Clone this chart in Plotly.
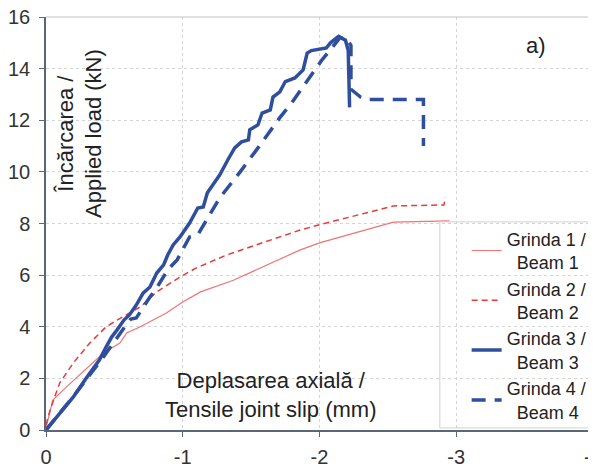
import plotly.graph_objects as go

# ---- data ----
x_beam1 = [0, -0.05, -0.15, -0.27, -0.42, -0.54, -0.59, -0.69, -0.88, -1.0, -1.13, -1.37, -1.86, -2.0, -2.54, -2.95]
y_beam1 = [0.08, 1.16, 1.67, 2.25, 2.98, 3.37, 3.76, 4.0, 4.53, 4.96, 5.35, 5.8, 6.98, 7.25, 8.05, 8.1]

x_beam2 = [0, -0.03, -0.1, -0.2, -0.32, -0.44, -0.56, -0.69, -0.81, -0.98, -1.1, -1.32, -1.86, -2.0, -2.54, -2.91, -2.92]
y_beam2 = [0.2, 0.78, 1.82, 2.6, 3.37, 4.0, 4.38, 4.77, 5.35, 5.93, 6.28, 6.78, 7.75, 7.95, 8.68, 8.72, 9.0]

x_beam3 = [0, -0.1, -0.2, -0.3, -0.39, -0.44, -0.48, -0.52, -0.57, -0.61, -0.66, -0.71, -0.76, -0.81,
           -0.86, -0.89, -0.93, -0.98, -1.05, -1.11, -1.15, -1.18, -1.22, -1.27, -1.33, -1.38, -1.43,
           -1.48, -1.49, -1.55, -1.58, -1.64, -1.66, -1.71, -1.75, -1.82, -1.88, -1.91, -1.94, -2.05,
           -2.08, -2.14, -2.19, -2.21, -2.22]
y_beam3 = [0, 0.66, 1.28, 2.05, 2.71, 3.22, 3.6, 3.88, 4.26, 4.46, 4.84, 5.3, 5.54, 6.08,
           6.4, 6.78, 7.17, 7.48, 8.02, 8.6, 8.64, 9.19, 9.5, 9.88, 10.47, 10.93, 11.16,
           11.24, 11.63, 11.82, 12.28, 12.4, 12.9, 13.1, 13.5, 13.64, 13.95, 14.6, 14.7, 14.8,
           15.0, 15.25, 15.1, 14.7, 12.5]

x_beam4 = [0, -0.2, -0.42, -0.48, -0.57, -0.62, -0.66, -0.76, -0.8, -0.89, -0.96, -1.05, -1.11, -1.27,
           -1.42, -1.55, -1.71, -1.8, -1.88, -1.95, -2.02, -2.09, -2.15, -2.2, -2.23, -2.23, -2.3,
           -2.35, -2.76, -2.76]
y_beam4 = [0, 1.3, 2.83, 3.3, 3.95, 4.3, 4.34, 5.15, 5.43, 6.2, 6.6, 7.48, 7.56, 8.99,
           10.0, 10.93, 12.1, 12.7, 13.3, 13.8, 14.35, 14.8, 15.2, 15.15, 14.9, 13.2, 12.9,
           12.8, 12.8, 11.0]

names = ["Grinda 1 /<br>&nbsp;&nbsp;Beam 1", "Grinda 2 /<br>&nbsp;&nbsp;Beam 2",
         "Grinda 3 /<br>&nbsp;&nbsp;Beam 3", "Grinda 4 /<br>&nbsp;&nbsp;Beam 4"]

x_tickvals = [0, -1, -2, -3, -4]
x_ticktext = ["0", "-1", "-2", "-3", "-4"]
y_tickvals = [0, 2, 4, 6, 8, 10, 12, 14, 16]

RED_LIGHT = "#f07474"
RED = "#e63b3b"
BLUE = "#2f4e9e"
FONT = "Liberation Sans, Arial, sans-serif"

fig = go.Figure()
fig.add_trace(go.Scatter(x=x_beam1, y=y_beam1, mode="lines", name=names[0], legendgroup="g1",
                         line=dict(color=RED_LIGHT, width=1.2)))
fig.add_trace(go.Scatter(x=x_beam2, y=y_beam2, mode="lines", name=names[1], legendgroup="g2",
                         line=dict(color=RED, width=1.5, dash="6px,4px")))
fig.add_trace(go.Scatter(x=x_beam3, y=y_beam3, mode="lines", name=names[2], legendgroup="g3",
                         line=dict(color=BLUE, width=3.5)))
fig.add_trace(go.Scatter(x=x_beam4, y=y_beam4, mode="lines", name=names[3], legendgroup="g4",
                         line=dict(color=BLUE, width=3.5, dash="14px,9px")))

fig.update_layout(
    width=596, height=467,
    margin=dict(l=38, r=11, t=9, b=45, autoexpand=False),
    paper_bgcolor="white", plot_bgcolor="white",
    font=dict(family=FONT, size=20, color="#222222"),
    showlegend=True,
    legend=dict(x=0.769, xanchor="left", y=0.507, yanchor="top",
                bgcolor="rgba(0,0,0,0)", borderwidth=0,
                font=dict(size=18, color="#222222"),
                itemwidth=30, tracegroupgap=8, traceorder="normal"),
    xaxis=dict(range=[0, -4], tickvals=x_tickvals, ticktext=x_ticktext, automargin=False,
               showgrid=True, gridcolor="#d4d4d4", griddash="dot", gridwidth=1,
               zeroline=False, showline=True, linecolor="#5a6778", linewidth=1.5,
               ticks="outside", ticklen=5, tickcolor="#5a6778",
               ticklabelstandoff=3, ticklabeloverflow="allow",
               tickfont=dict(size=20, color="#333333")),
    yaxis=dict(range=[0, 16], tickvals=y_tickvals, automargin=False,
               showgrid=True, gridcolor="#d4d4d4", griddash="dot", gridwidth=1,
               zeroline=False, showline=True, linecolor="#5a6778", linewidth=1.5,
               ticks="outside", ticklen=5, tickcolor="#5a6778",
               ticklabelstandoff=5, ticklabeloverflow="allow",
               tickfont=dict(size=20, color="#333333")),
    shapes=[
        dict(type="line", xref="paper", yref="paper", x0=0, x1=1, y0=1, y1=1,
             line=dict(color="#c4c4c4", width=1.2)),
        dict(type="line", xref="paper", yref="paper", x0=1, x1=1, y0=0, y1=1,
             line=dict(color="#c4c4c4", width=1.2)),
        dict(type="rect", xref="paper", yref="paper", x0=0.72, x1=1, y0=0.005, y1=0.504,
             line=dict(color="#d0d0d0", width=1), fillcolor="rgba(255,255,255,0)"),
    ],
    annotations=[
        dict(text="a)", xref="paper", yref="paper", x=0.896, y=0.932, showarrow=False,
             xanchor="center", yanchor="middle",
             font=dict(size=22, color="#222222")),
        dict(text="Deplasarea axială /<br>Tensile joint slip (mm)", xref="paper", yref="paper",
             x=0.411, y=0.085, showarrow=False, align="center", xanchor="center", yanchor="middle",
             font=dict(size=22, color="#222222")),
        dict(text="Încărcarea /<br>Applied load (kN)", xref="paper", yref="paper",
             x=0.062, y=0.719, showarrow=False, align="center", textangle=-90,
             xanchor="center", yanchor="middle",
             font=dict(size=22, color="#222222")),
    ],
)

fig.write_html("out.html")
